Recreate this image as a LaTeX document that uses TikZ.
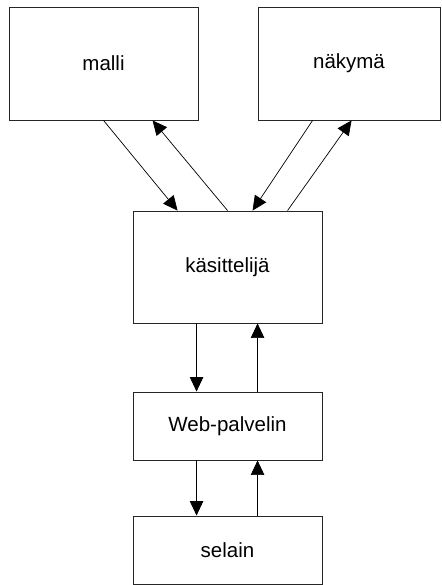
\documentclass[tikz,border=0pt]{standalone}
\usepackage{fontspec}
\setmainfont{Liberation Sans}
\usetikzlibrary{arrows.meta,calc}

\tikzset{
  box/.style={draw=black!85, line width=0.9pt, fill=white, inner sep=0pt,
              font=\fontsize{20.5}{24}\selectfont},
  link/.style={draw=black, line width=0.7pt,
               -{Triangle[length=14.5pt,width=13.5pt]}}
}

\begin{document}
\begin{tikzpicture}[x=1pt,y=-1pt]
  \useasboundingbox (0,0) rectangle (441,585);

  % components
  \node[box, minimum width=189pt, minimum height=113pt] (malli)  at (103.5,63.5)  {malli};
  \node[box, minimum width=182pt, minimum height=113pt] (nakyma) at (349,63.5)    {näkymä};
  \node[box, minimum width=189pt, minimum height=112pt] (kas)    at (227.5,267)   {käsittelijä};
  \node[box, minimum width=189pt, minimum height=68pt]  (web)    at (227.5,426)   {Web-palvelin};
  \node[box, minimum width=189pt, minimum height=68pt]  (selain) at (227.5,550)   {selain};

  % model <-> controller
  \draw[link] ($(malli.south west)+(95,0)$) -- ($(kas.north west)+(45,0)$);
  \draw[link] ($(kas.north west)+(95,0)$) -- ($(malli.south west)+(144,0)$);

  % view <-> controller
  \draw[link] ($(nakyma.south west)+(55,0)$) -- ($(kas.north west)+(120,0)$);
  \draw[link] ($(kas.north west)+(155,0)$) -- ($(nakyma.south west)+(94,0)$);

  % controller <-> web server
  \draw[link] ($(kas.south west)+(64,0)$) -- ($(web.north west)+(64,0)$);
  \draw[link] ($(web.north west)+(125,0)$) -- ($(kas.south west)+(125,0)$);

  % web server <-> browser
  \draw[link] ($(web.south west)+(64,0)$) -- ($(selain.north west)+(64,0)$);
  \draw[link] ($(selain.north west)+(125,0)$) -- ($(web.south west)+(125,0)$);
\end{tikzpicture}
\end{document}
